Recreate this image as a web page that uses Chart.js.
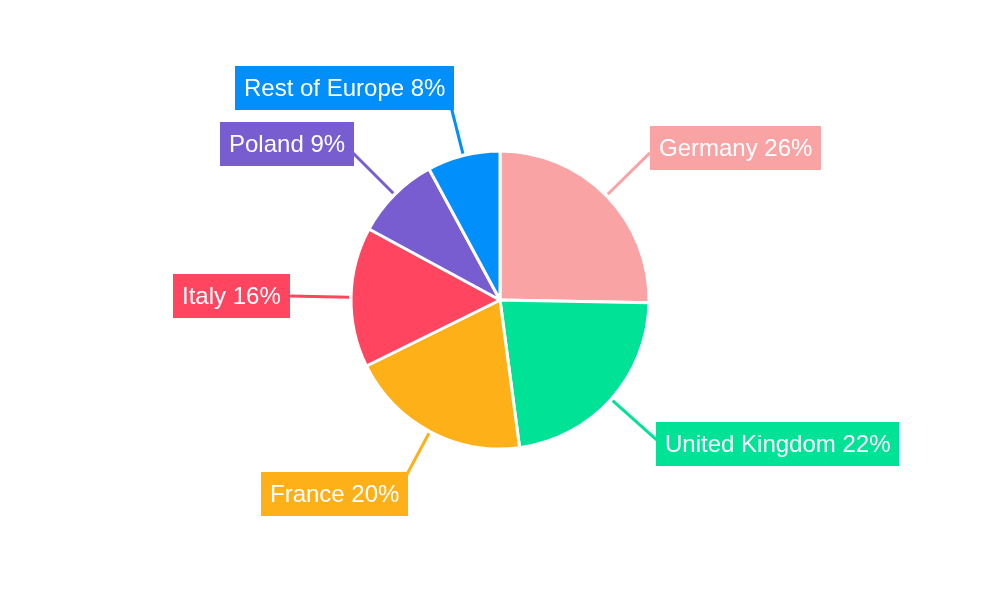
<!DOCTYPE html>
<html>
<head>
<meta charset="utf-8">
<script src="https://cdn.jsdelivr.net/npm/chart.js@4.4.1/dist/chart.umd.min.js"></script>
<style>
  html, body { margin: 0; padding: 0; background: #ffffff; }
  #wrap { width: 1000px; height: 600px; }
</style>
</head>
<body>
<div id="wrap"><canvas id="c" width="1000" height="600"></canvas></div>
<script>
// Data
const categories = ['Germany', 'United Kingdom', 'France', 'Italy', 'Poland', 'Rest of Europe'];
const shares = [25.3, 22.6, 19.8, 15.2, 9.2, 7.9];          // slice sizes (from geometry)
const shareLabels = ['26%', '22%', '20%', '16%', '9%', '8%']; // percentages printed in the labels
const colors = ['#F9A3A4', '#00E396', '#FEB019', '#FF4560', '#775DD0', '#008FFB'];

const calloutPlugin = {
  id: 'callouts',
  afterDatasetsDraw(chart, args, opts) {
    const ctx = chart.ctx;
    const meta = chart.getDatasetMeta(0);
    const nudges = opts.nudges || [];
    ctx.save();
    ctx.font = '24px "Liberation Sans", Arial, sans-serif';
    meta.data.forEach((arc, i) => {
      const p = arc.getProps(['x', 'y', 'startAngle', 'endAngle', 'outerRadius'], true);
      const mid = (p.startAngle + p.endAngle) / 2;
      const cx = Math.cos(mid), sy = Math.sin(mid);
      const r0 = p.outerRadius + 2;
      const r1 = p.outerRadius + 61;
      const x0 = p.x + cx * r0, y0 = p.y + sy * r0;
      const x1 = p.x + cx * r1, y1 = p.y + sy * r1;
      // leader line
      ctx.strokeStyle = colors[i];
      ctx.lineWidth = 3;
      ctx.beginPath();
      ctx.moveTo(x0, y0);
      ctx.lineTo(x1, y1);
      ctx.stroke();
      // label box
      const n = nudges[i] || [0, 0];
      const text = categories[i] + ' ' + shareLabels[i];
      const tw = ctx.measureText(text).width;
      const padX = 9, h = 44;
      const w = tw + 2 * padX;
      const right = cx >= 0;
      const ax = p.x + cx * (p.outerRadius + 59);
      const ay = p.y + sy * (p.outerRadius + 59);
      const bx = (right ? ax + 2 : ax + 2 - w) + n[0];
      const by = ay + sy * 10 - h / 2 + n[1];
      ctx.fillStyle = colors[i];
      ctx.fillRect(Math.round(bx), Math.round(by), Math.round(w), h);
      ctx.fillStyle = '#ffffff';
      ctx.textBaseline = 'middle';
      ctx.textAlign = 'left';
      ctx.fillText(text, Math.round(bx) + padX, Math.round(by) + h / 2 + 1);
    });
    ctx.restore();
  }
};

new Chart(document.getElementById('c'), {
  type: 'pie',
  data: {
    labels: categories,
    datasets: [{
      data: shares,
      backgroundColor: colors,
      borderColor: '#ffffff',
      borderWidth: 3,
      radius: 149
    }]
  },
  options: {
    responsive: false,
    animation: false,
    layout: { padding: 0 },
    plugins: {
      legend: { display: false },
      tooltip: { enabled: false },
      callouts: {
        nudges: [[0, 1], [-1, -1], [4, 2], [-4, 0], [-1, -2], [4, -1]]
      }
    }
  },
  plugins: [calloutPlugin]
});
</script>
</body>
</html>
